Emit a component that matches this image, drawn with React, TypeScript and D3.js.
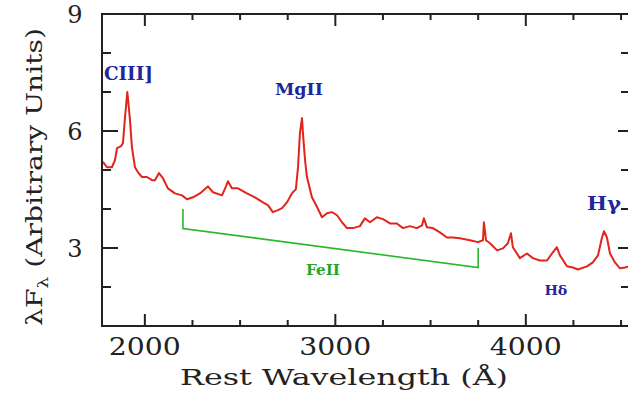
import React from "react";
import * as d3 from "d3";

const wavelength = [1780, 1801, 1827, 1843, 1854, 1875, 1885, 1896, 1908, 1922, 1932, 1948, 1964, 1985, 2011, 2037, 2053, 2074, 2095, 2121, 2158, 2195, 2221, 2253, 2289, 2331, 2358, 2405, 2426, 2436, 2457, 2489, 2536, 2578, 2620, 2646, 2672, 2699, 2720, 2746, 2772, 2793, 2804, 2814, 2825, 2830, 2841, 2851, 2877, 2904, 2930, 2956, 2982, 3009, 3035, 3061, 3093, 3129, 3155, 3182, 3218, 3250, 3287, 3323, 3355, 3392, 3428, 3455, 3465, 3481, 3512, 3549, 3586, 3617, 3654, 3707, 3749, 3775, 3780, 3791, 3812, 3849, 3880, 3906, 3922, 3932, 3969, 4006, 4037, 4074, 4111, 4142, 4163, 4179, 4216, 4247, 4274, 4321, 4352, 4379, 4399, 4410, 4426, 4442, 4468, 4494, 4520, 4547];
const flux = [5.21, 5.07, 5.07, 5.25, 5.56, 5.61, 5.69, 6.36, 7.0, 6.28, 5.59, 5.07, 4.94, 4.82, 4.82, 4.74, 4.74, 4.92, 4.79, 4.53, 4.4, 4.35, 4.25, 4.3, 4.4, 4.58, 4.43, 4.35, 4.58, 4.71, 4.53, 4.53, 4.4, 4.3, 4.17, 4.1, 3.92, 3.97, 4.02, 4.17, 4.4, 4.51, 5.07, 5.94, 6.33, 5.94, 5.25, 4.82, 4.3, 4.05, 3.79, 3.89, 3.92, 3.84, 3.66, 3.51, 3.51, 3.56, 3.76, 3.66, 3.79, 3.74, 3.63, 3.63, 3.51, 3.56, 3.51, 3.58, 3.76, 3.53, 3.51, 3.4, 3.27, 3.27, 3.25, 3.2, 3.15, 3.2, 3.66, 3.2, 3.12, 2.94, 2.99, 3.12, 3.38, 3.02, 2.74, 2.86, 2.74, 2.68, 2.68, 2.89, 3.02, 2.81, 2.53, 2.5, 2.45, 2.53, 2.63, 2.81, 3.25, 3.43, 3.27, 2.86, 2.63, 2.48, 2.5, 2.53];

const xMajorTicks = [2000, 3000, 4000];
const xMinorTicks = [2250, 2500, 2750, 3250, 3500, 3750, 4250, 4500];
const yMajorTicks = [3, 6, 9];
const yMinorTicks = [2, 4, 5, 7, 8];

const lineNames = ["CIII]", "MgII", "Hγ", "Hδ"];
const lineWave = [1785, 2809, 4410, 4158];
const lineFlux = [7.31, 6.92, 3.97, 1.79];

const feWave = [2200, 2200, 3750, 3750];
const feFlux = [4.0, 3.5, 2.5, 3.0];
const feLabel = "FeII";
const feLabelWave = 2935;
const feLabelFlux = 2.32;

export default function App() {
  const W = 628, H = 396;
  const left = 102, right = 630, top = 14, bottom = 326;
  const x = d3.scaleLinear().domain([1775, 4547]).range([left, right]);
  const y = d3.scaleLinear().domain([1, 9]).range([bottom, top]);
  const pts = wavelength.map((w, i) => [w, flux[i]] as [number, number]);
  const line = d3.line<[number, number]>().x(d => x(d[0])).y(d => y(d[1]));
  const fePts = feWave.map((w, i) => [w, feFlux[i]] as [number, number]);
  const font = "'DejaVu Serif', serif";
  const axisColor = "#222";
  const blue = "#23259a";
  const labelSizes = [18, 17, 19, 13];
  const labelLens = [49, 48, 34, 23];
  const labelAnchor = ["start", "middle", "middle", "middle"];

  return (
    <svg width={W} height={H} style={{ position: "absolute", left: 0, top: 0, background: "#fff" }}>
      <rect x={0} y={0} width={W} height={H} fill="#fff" />
      <path d={line(pts) || ""} fill="none" stroke="#e3241b" strokeWidth={2} strokeLinejoin="round" />
      <path d={line(fePts) || ""} fill="none" stroke="#2bb52b" strokeWidth={1.6} />
      <text x={x(feLabelWave)} y={y(feLabelFlux)} fill="#2aa52a" fontFamily={font} fontWeight="bold" fontSize={14} textAnchor="middle" textLength={34} lengthAdjust="spacingAndGlyphs">{feLabel}</text>
      {lineNames.map((n, i) => (
        <text key={n} x={x(lineWave[i])} y={y(lineFlux[i])} fill={blue} fontFamily={font} fontSize={labelSizes[i]} fontWeight="bold" textAnchor={labelAnchor[i]} textLength={labelLens[i]} lengthAdjust="spacingAndGlyphs">{n}</text>
      ))}
      <rect x={left} y={top} width={right - left} height={bottom - top} fill="none" stroke={axisColor} strokeWidth={2} />
      {xMajorTicks.map(t => (
        <g key={"xM" + t}>
          <line x1={x(t)} x2={x(t)} y1={bottom} y2={bottom - 12} stroke={axisColor} strokeWidth={2} />
          <line x1={x(t)} x2={x(t)} y1={top} y2={top + 12} stroke={axisColor} strokeWidth={2} />
          <text x={x(t)} y={355} textAnchor="middle" fontFamily={font} fontSize={24} fill="#222" textLength={72} lengthAdjust="spacingAndGlyphs">{t}</text>
        </g>
      ))}
      {xMinorTicks.map(t => (
        <g key={"xm" + t}>
          <line x1={x(t)} x2={x(t)} y1={bottom} y2={bottom - 6} stroke={axisColor} strokeWidth={2} />
          <line x1={x(t)} x2={x(t)} y1={top} y2={top + 6} stroke={axisColor} strokeWidth={2} />
        </g>
      ))}
      {yMajorTicks.map(t => (
        <g key={"yM" + t}>
          <line x1={left} x2={left + 16} y1={y(t)} y2={y(t)} stroke={axisColor} strokeWidth={2} />
          <line x1={right} x2={right - 12} y1={y(t)} y2={y(t)} stroke={axisColor} strokeWidth={2} />
          <text x={75} y={y(t) + 8.5} textAnchor="middle" fontFamily={font} fontSize={24} fill="#222">{t}</text>
        </g>
      ))}
      {yMinorTicks.map(t => (
        <g key={"ym" + t}>
          <line x1={left} x2={left + 9} y1={y(t)} y2={y(t)} stroke={axisColor} strokeWidth={2} />
          <line x1={right} x2={right - 9} y1={y(t)} y2={y(t)} stroke={axisColor} strokeWidth={2} />
        </g>
      ))}
      <text x={344} y={385} textAnchor="middle" fontFamily={font} fontSize={23} fill="#222" textLength={328} lengthAdjust="spacingAndGlyphs">Rest Wavelength (Å)</text>
      <text transform="translate(42,177) rotate(-90)" textAnchor="middle" fontFamily={font} fontSize={23} fill="#222" textLength={298} lengthAdjust="spacingAndGlyphs">
        λF<tspan fontSize={15} dy={6}>λ</tspan><tspan dy={-6}> (Arbitrary Units)</tspan>
      </text>
    </svg>
  );
}
